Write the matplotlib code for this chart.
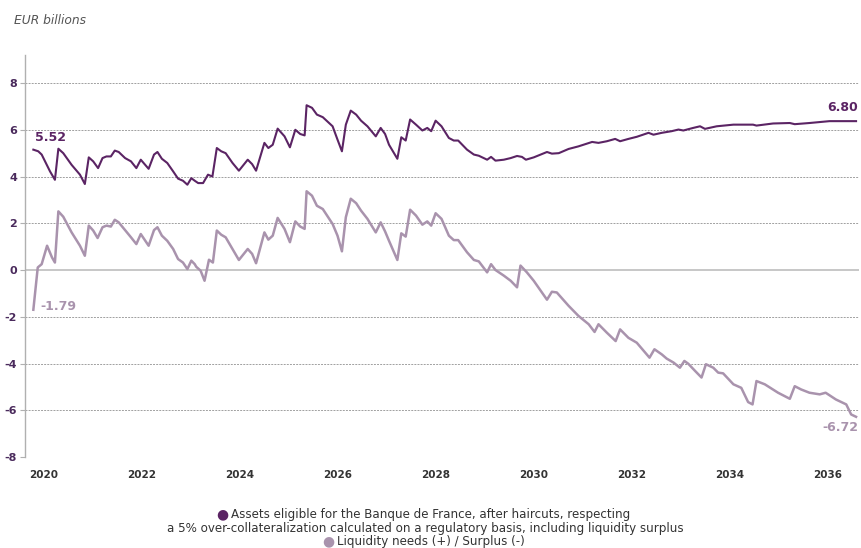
import matplotlib
matplotlib.use("Agg")
import matplotlib.pyplot as plt

plt.rcParams['axes.unicode_minus'] = False
plt.rcParams['font.family'] = ['DejaVu Sans']

# ---- data ----
assets_years = [2019.80, 2019.90, 2019.97, 2020.14, 2020.24, 2020.31, 2020.41, 2020.58, 2020.75, 2020.85,
                2020.93, 2021.02, 2021.12, 2021.21, 2021.29, 2021.38, 2021.46, 2021.54, 2021.67, 2021.79,
                2021.90, 2021.99, 2022.15, 2022.26, 2022.33, 2022.42, 2022.53, 2022.65, 2022.75, 2022.85,
                2022.94, 2023.02, 2023.09, 2023.16, 2023.26, 2023.36, 2023.45, 2023.54, 2023.63, 2023.72,
                2023.86, 2023.99, 2024.17, 2024.26, 2024.34, 2024.51, 2024.59, 2024.68, 2024.78, 2024.92,
                2025.03, 2025.14, 2025.24, 2025.33, 2025.37, 2025.48, 2025.58, 2025.70, 2025.90, 2026.00,
                2026.09, 2026.17, 2026.27, 2026.38, 2026.48, 2026.61, 2026.78, 2026.88, 2026.97, 2027.05,
                2027.22, 2027.30, 2027.39, 2027.48, 2027.60, 2027.73, 2027.83, 2027.91, 2028.00, 2028.12,
                2028.27, 2028.37, 2028.46, 2028.64, 2028.78, 2028.88, 2029.05, 2029.13, 2029.22, 2029.39,
                2029.53, 2029.66, 2029.76, 2029.84, 2030.00, 2030.27, 2030.37, 2030.51, 2030.71, 2030.91,
                2031.19, 2031.32, 2031.49, 2031.66, 2031.76, 2031.93, 2032.10, 2032.34, 2032.44, 2032.61,
                2032.81, 2032.95, 2033.05, 2033.25, 2033.39, 2033.49, 2033.73, 2034.07, 2034.47, 2034.54,
                2034.88, 2035.22, 2035.32, 2035.62, 2036.03, 2036.57]
assets_values = [5.15, 5.08, 4.94, 4.22, 3.86, 5.19, 5.00, 4.50, 4.08, 3.68,
                 4.82, 4.65, 4.36, 4.79, 4.86, 4.86, 5.11, 5.05, 4.79, 4.65,
                 4.36, 4.72, 4.33, 4.94, 5.05, 4.76, 4.58, 4.22, 3.91, 3.82,
                 3.65, 3.93, 3.82, 3.72, 3.72, 4.08, 4.00, 5.22, 5.08, 5.00,
                 4.58, 4.25, 4.72, 4.53, 4.25, 5.44, 5.22, 5.36, 6.05, 5.72,
                 5.25, 6.00, 5.82, 5.76, 7.05, 6.94, 6.65, 6.54, 6.15, 5.58,
                 5.08, 6.22, 6.82, 6.65, 6.39, 6.15, 5.72, 6.08, 5.82, 5.36,
                 4.76, 5.68, 5.54, 6.44, 6.22, 5.97, 6.08, 5.94, 6.39, 6.15,
                 5.65, 5.54, 5.54, 5.15, 4.94, 4.89, 4.72, 4.84, 4.68, 4.72,
                 4.79, 4.88, 4.84, 4.72, 4.82, 5.05, 4.98, 5.00, 5.18, 5.29,
                 5.48, 5.44, 5.51, 5.61, 5.51, 5.61, 5.70, 5.87, 5.79, 5.87,
                 5.94, 6.01, 5.97, 6.08, 6.15, 6.04, 6.15, 6.22, 6.22, 6.18,
                 6.27, 6.29, 6.24, 6.29, 6.37, 6.37]

liq_years = [2019.80, 2019.89, 2019.97, 2020.08, 2020.18, 2020.24, 2020.31, 2020.41, 2020.58, 2020.75,
             2020.85, 2020.93, 2021.02, 2021.11, 2021.21, 2021.29, 2021.38, 2021.46, 2021.54, 2021.67,
             2021.79, 2021.90, 2021.99, 2022.15, 2022.26, 2022.33, 2022.42, 2022.53, 2022.65, 2022.75,
             2022.85, 2022.94, 2023.02, 2023.09, 2023.12, 2023.21, 2023.29, 2023.38, 2023.46, 2023.54,
             2023.63, 2023.72, 2023.86, 2023.99, 2024.17, 2024.26, 2024.34, 2024.51, 2024.59, 2024.68,
             2024.78, 2024.92, 2025.03, 2025.14, 2025.24, 2025.33, 2025.37, 2025.48, 2025.58, 2025.70,
             2025.90, 2026.00, 2026.09, 2026.17, 2026.27, 2026.38, 2026.48, 2026.61, 2026.78, 2026.88,
             2026.97, 2027.05, 2027.22, 2027.30, 2027.39, 2027.48, 2027.60, 2027.73, 2027.83, 2027.91,
             2028.00, 2028.12, 2028.27, 2028.37, 2028.46, 2028.64, 2028.78, 2028.88, 2029.05, 2029.13,
             2029.22, 2029.39, 2029.53, 2029.66, 2029.73, 2029.86, 2030.00, 2030.27, 2030.37, 2030.47,
             2030.71, 2030.91, 2031.12, 2031.24, 2031.32, 2031.49, 2031.67, 2031.76, 2031.93, 2032.10,
             2032.36, 2032.46, 2032.61, 2032.71, 2032.85, 2032.98, 2033.07, 2033.15, 2033.29, 2033.42,
             2033.51, 2033.66, 2033.76, 2033.86, 2034.07, 2034.23, 2034.37, 2034.46, 2034.54, 2034.71,
             2034.98, 2035.22, 2035.32, 2035.45, 2035.62, 2035.83, 2035.95, 2036.16, 2036.37, 2036.47,
             2036.57]
liq_values = [-1.70, 0.11, 0.25, 1.04, 0.54, 0.32, 2.51, 2.28, 1.61, 1.04,
              0.61, 1.90, 1.69, 1.37, 1.83, 1.90, 1.86, 2.15, 2.04, 1.71,
              1.40, 1.11, 1.54, 1.04, 1.71, 1.83, 1.47, 1.25, 0.90, 0.47,
              0.32, 0.04, 0.40, 0.25, 0.14, -0.03, -0.46, 0.44, 0.32, 1.69,
              1.51, 1.40, 0.90, 0.43, 0.90, 0.69, 0.29, 1.61, 1.30, 1.47,
              2.23, 1.76, 1.19, 2.08, 1.86, 1.76, 3.37, 3.18, 2.75, 2.61,
              1.97, 1.47, 0.80, 2.26, 3.05, 2.86, 2.54, 2.19, 1.61, 2.04,
              1.65, 1.25, 0.43, 1.57, 1.43, 2.58, 2.33, 1.94, 2.08, 1.90,
              2.43, 2.19, 1.47, 1.28, 1.28, 0.76, 0.43, 0.37, -0.10, 0.25,
              0.00, -0.24, -0.46, -0.74, 0.19, -0.10, -0.46, -1.27, -0.93, -0.96,
              -1.53, -1.96, -2.32, -2.65, -2.32, -2.68, -3.04, -2.54, -2.90, -3.11,
              -3.75, -3.39, -3.61, -3.79, -3.96, -4.18, -3.89, -4.01, -4.32, -4.60,
              -4.03, -4.18, -4.39, -4.42, -4.89, -5.04, -5.65, -5.75, -4.75, -4.89,
              -5.25, -5.51, -4.97, -5.11, -5.25, -5.32, -5.25, -5.54, -5.75, -6.18,
              -6.28]

x_ticks = [2020, 2022, 2024, 2026, 2028, 2030, 2032, 2034, 2036]
y_ticks = [-8, -6, -4, -2, 0, 2, 4, 6, 8]

legend_lines = ["Assets eligible for the Banque de France, after haircuts, respecting",
                "a 5% over-collateralization calculated on a regulatory basis, including liquidity surplus",
                "Liquidity needs (+) / Surplus (-)"]

# ---- style ----
DARK = "#5b2464"
LIGHT = "#a993ad"
TICKC = "#4a2a5c"
GRID = "#a0a0a0"

W, H = 861, 548
fig = plt.figure(figsize=(W / 100, H / 100), dpi=100)
ax = fig.add_axes([25 / W, 1 - 457 / H, (859 - 25) / W, (457 - 55) / H])

ax.set_xlim(2019.63, 2036.63)
ax.set_ylim(-8, 9.2)

for yv in y_ticks:
    if yv == 0:
        ax.axhline(0, color="#bdbdbd", lw=1.2, zorder=1)
    else:
        ax.axhline(yv, color=GRID, lw=0.7, ls=(0, (2.0, 1.2)), zorder=1)

ax.plot(liq_years, liq_values, color=LIGHT, lw=1.8, zorder=3, solid_joinstyle="round")
ax.plot(assets_years, assets_values, color=DARK, lw=1.5, zorder=4, solid_joinstyle="round")

for s in ["top", "right", "bottom"]:
    ax.spines[s].set_visible(False)
ax.spines["left"].set_color("#b0b0b0")
ax.spines["left"].set_linewidth(1.0)

ax.set_yticks(y_ticks)
ax.set_yticklabels([str(v) for v in y_ticks], fontsize=8, fontweight="bold", color=TICKC)
ax.tick_params(axis="y", length=3.6, width=0.8, color="#b0b0b0", pad=2)
ax.set_xticks(x_ticks)
ax.set_xticklabels([str(v) for v in x_ticks], fontsize=7.5, fontweight="bold", color="#333333")
ax.tick_params(axis="x", length=0, pad=9)

# value labels
ax.text(2019.84, 5.68, "5.52", color=DARK, fontsize=9, fontweight="bold", ha="left", va="center")
ax.text(2036.61, 6.97, "6.80", color=DARK, fontsize=9, fontweight="bold", ha="right", va="center", clip_on=False)
ax.text(2019.94, -1.54, "-1.79", color=LIGHT, fontsize=9, fontweight="bold", ha="left", va="center")
ax.text(2036.61, -6.75, "-6.72", color=LIGHT, fontsize=9, fontweight="bold", ha="right", va="center", clip_on=False)

fig.text(14 / W, 1 - 20 / H, "EUR billions", fontsize=8.8, style="italic", color="#555555", ha="left", va="center")

# legend (centered paragraph)
cx = 425 / W
lg_fs = 8.6
t1 = fig.text(cx + 6 / W, 1 - 514.5 / H, legend_lines[0], fontsize=lg_fs, color="#333333", ha="center", va="center")
t2 = fig.text(cx, 1 - 528.5 / H, legend_lines[1], fontsize=lg_fs, color="#333333", ha="center", va="center")
t3 = fig.text(cx + 6 / W, 1 - 541.5 / H, legend_lines[2], fontsize=lg_fs, color="#333333", ha="center", va="center")
fig.canvas.draw()
r = fig.canvas.get_renderer()
for t, col in [(t1, DARK), (t3, LIGHT)]:
    bb = t.get_window_extent(r)
    x0 = (bb.x0 - 9) / W
    fig.text(x0, t.get_position()[1], "\u25CF", fontsize=10, color=col, ha="center", va="center")

fig.savefig("out.png", dpi=100)
